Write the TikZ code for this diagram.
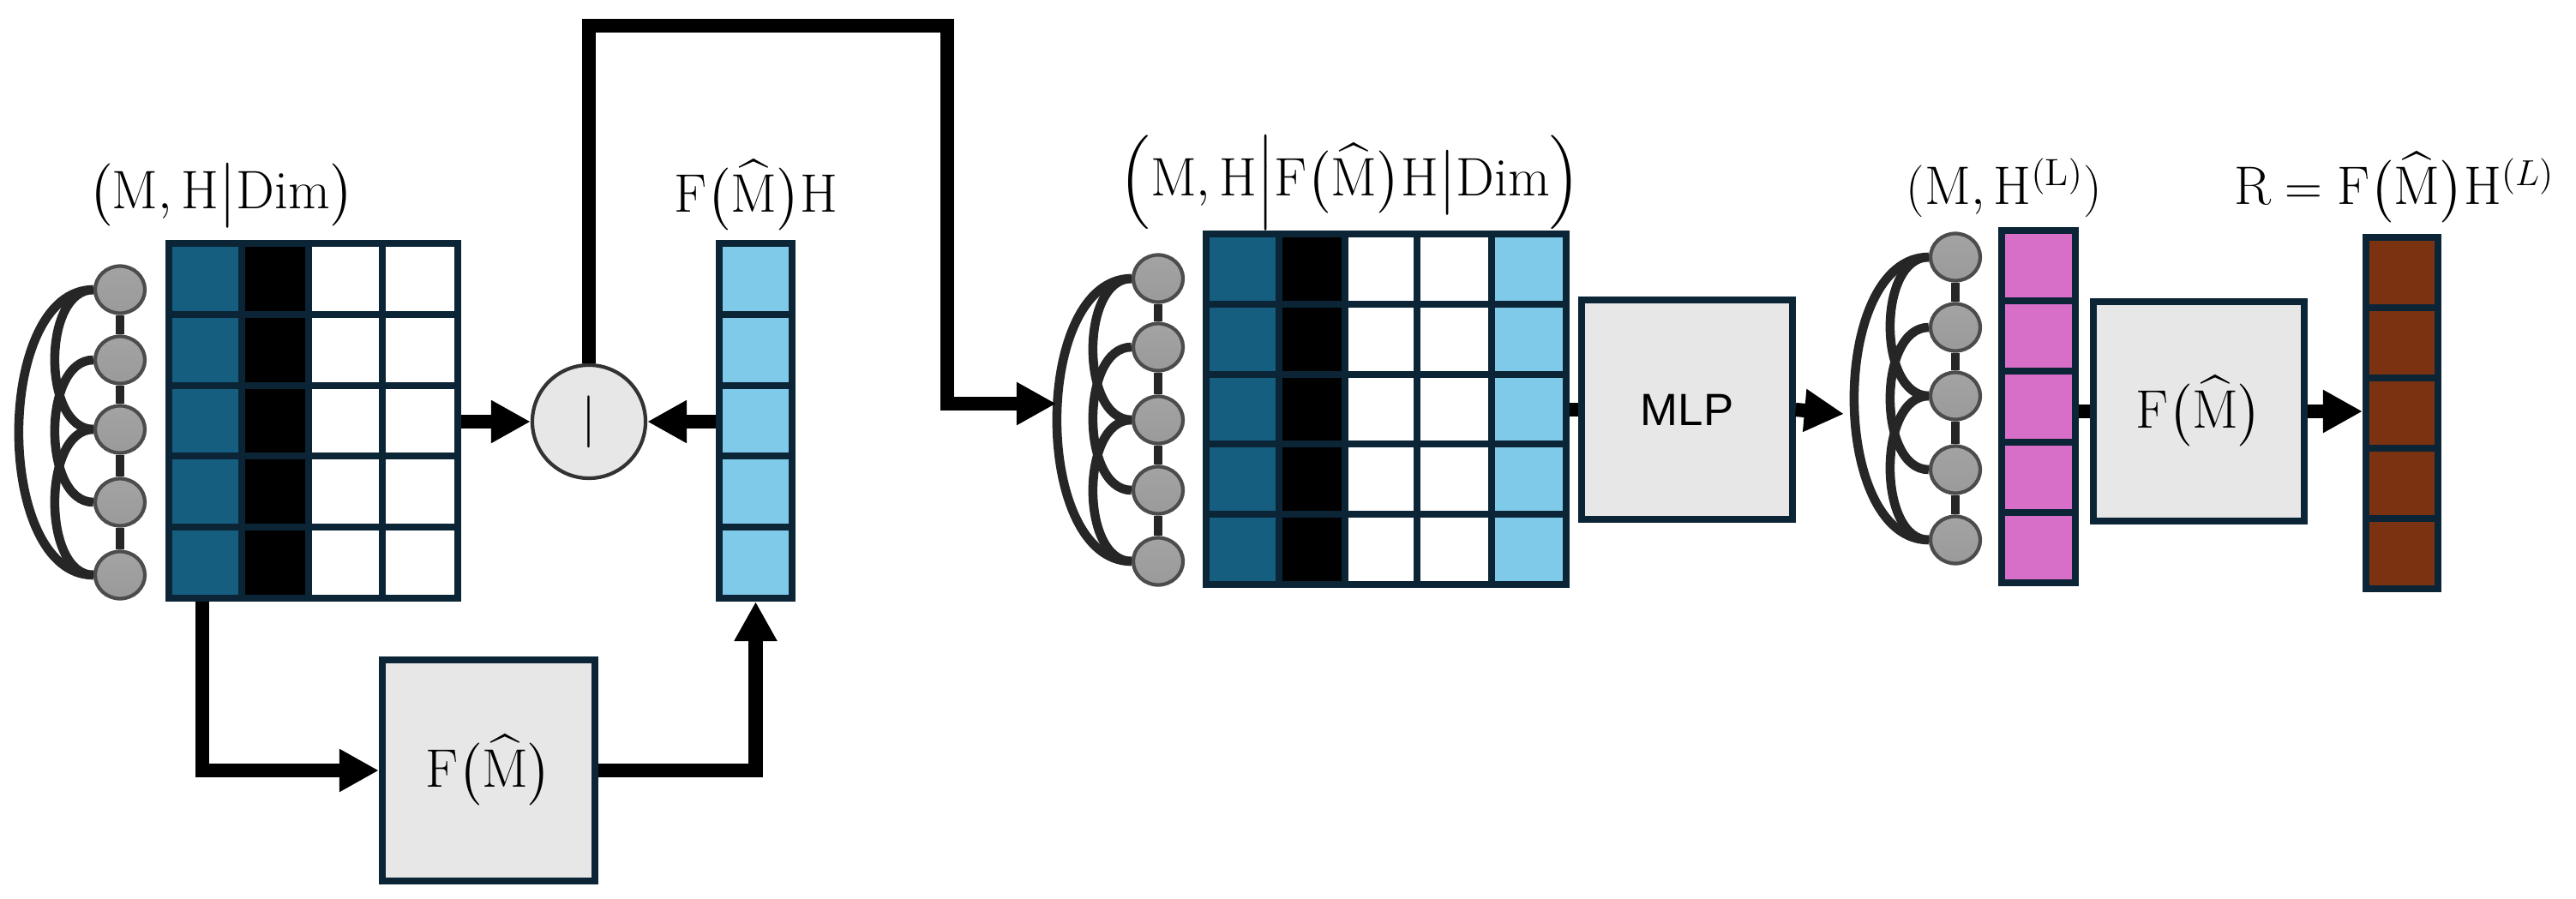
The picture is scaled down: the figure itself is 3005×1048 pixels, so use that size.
\documentclass[tikz,border=0pt]{standalone}
\usepackage{amsmath}
\usepackage{fontspec}
\newfontfamily\sansf{Liberation Sans}
\usetikzlibrary{arrows.meta,calc}
\definecolor{dblue}{HTML}{155E80}
\definecolor{lblue}{HTML}{7FC9E9}
\definecolor{pinkc}{HTML}{D76EC7}
\definecolor{brownc}{HTML}{7B3211}
\definecolor{bord}{HTML}{0B2537}
\definecolor{boxg}{HTML}{E7E7E7}
\definecolor{gcirc}{HTML}{8C8C8C}
\newcommand\mygraph[7]{%
  \foreach \i/\yy in {1/#3,2/#4,3/#5,4/#6,5/#7} \node[gn] (#1\i) at (#2,\yy) {};
  \draw[gl,line width=2.6pt] (#11)--(#12) (#12)--(#13) (#13)--(#14) (#14)--(#15);
  \draw[gl] (#11.west) .. controls +(-116,0) and +(-116,0) .. (#15.west);
  \draw[gl] (#11.west) .. controls +(-60,0) and +(-60,0) .. (#13.west);
  \draw[gl] (#12.west) .. controls +(-60,0) and +(-60,0) .. (#14.west);
  \draw[gl] (#13.west) .. controls +(-60,0) and +(-60,0) .. (#15.west);
}
\newcommand\mycol[7]{% prefix, x1, x2, ytop, ybot, fill, colindex
  \foreach \r in {1,...,5}{
    \pgfmathsetmacro\ya{#4+(\r-1)*(#5-#4)/5}
    \pgfmathsetmacro\yb{#4+\r*(#5-#4)/5}
    \node[cell,fill=#6,minimum width={(#3-#2)*0.01cm},minimum height={(#5-#4)*0.002cm}]
      (#1-#7-\r) at ({(#2+#3)/2},{(\ya+\yb)/2}) {};
  }
}
\tikzset{
  gn/.style={ellipse,draw=black!70,line width=1.2pt,minimum width=0.58cm,minimum height=0.55cm,inner sep=0pt,
    top color=gcirc!80,bottom color=gcirc!110!black},
  gl/.style={draw=black!85,line width=3pt},
  cell/.style={draw=bord,line width=2.3pt,inner sep=0pt},
  box/.style={draw=bord,fill=boxg,line width=2.3pt,inner sep=0pt},
  conn/.style={line width=4.6pt,draw=black},
  arr/.style={conn,-{Triangle[length=0.46cm,width=0.47cm]}},
  lab/.style={font=\fontsize{18}{22}\selectfont,inner sep=0pt},
}
\usetikzlibrary{shapes.geometric}
\begin{document}
\begin{tikzpicture}[x=0.01cm,y=-0.01cm]
\useasboundingbox (0,0) rectangle (3005,1048);
% left group
\mygraph{lg}{140}{338}{420}{501}{586}{671}
\mycol{L}{197}{282}{284}{698}{dblue}{1}
\mycol{L}{282}{360}{284}{698}{black}{2}
\mycol{L}{360}{446}{284}{698}{white}{3}
\mycol{L}{446}{534}{284}{698}{white}{4}
\node[lab] (lab1) at (258,228) {$\bigl(\mathrm{M},\mathrm{H}\big|\mathrm{Dim}\bigr)$};
\mycol{B}{839}{924}{284}{698}{lblue}{1}
\node[lab] (lab2) at (882,228) {$\mathrm{F}\bigl(\widehat{\mathrm{M}}\bigr)\mathrm{H}$};
\node[circle,draw=black!80,fill=boxg,line width=1.2pt,minimum size=1.32cm,inner sep=0pt,lab] (bar) at (687,492) {$|$};
\node[box,minimum width=2.48cm,minimum height=2.58cm,lab] (f1) at (570,899) {$\mathrm{F}\bigl(\widehat{\mathrm{M}}\bigr)$};
% middle group
\mygraph{mg}{1351}{325}{405}{490}{572}{655}
\mycol{M}{1407}{1492}{273}{682}{dblue}{1}
\mycol{M}{1492}{1569}{273}{682}{black}{2}
\mycol{M}{1569}{1653}{273}{682}{white}{3}
\mycol{M}{1653}{1740}{273}{682}{white}{4}
\mycol{M}{1740}{1827}{273}{682}{lblue}{5}
\node[lab] (lab3) at (1575,213) {$\Bigl(\mathrm{M},\mathrm{H}\Big|\mathrm{F}\bigl(\widehat{\mathrm{M}}\bigr)\mathrm{H}\big|\mathrm{Dim}\Bigr)$};
\node[box,minimum width=2.45cm,minimum height=2.56cm,font=\sansf\fontsize{15}{18}\selectfont] (mlp) at (1968,478) {MLP};
% right group
\mygraph{rg}{2281}{300}{382}{462}{548}{630}
\mycol{P}{2335}{2421}{269}{680}{pinkc}{1}
\node[box,minimum width=2.45cm,minimum height=2.55cm,lab] (f2) at (2565,480) {$\mathrm{F}\bigl(\widehat{\mathrm{M}}\bigr)$};
\mycol{R}{2760}{2844}{277}{687}{brownc}{1}
\node[lab] (lab4) at (2338,219) {$(\mathrm{M},\mathrm{H}^{(\mathrm{L})})$};
\node[lab] (lab5) at (2793,219) {$\mathrm{R}=\mathrm{F}\bigl(\widehat{\mathrm{M}}\bigr)\mathrm{H}^{(L)}$};
% connectors
\coordinate (t1) at (1232,471);
\coordinate (t2) at (2151,483);
\draw[arr] (L-4-3.east |- bar) -- (bar.west);
\draw[arr] (B-1-3.west |- bar) -- (bar.east);
\draw[arr] (bar.north) |- (1105,30) |- (t1);
\draw[conn] (M-5-3.east |- mlp) -- (mlp.west);
\draw[arr] (mlp.east) -- (t2);
\draw[conn] (P-1-3.east |- f2) -- (f2.west);
\draw[arr] (f2.east) -- (R-1-3.west |- f2);
\draw[arr] (L-1-5.south -| 236,0) |- (f1.west);
\draw[arr] (f1.east) -| (B-1-5.south);
\end{tikzpicture}
\end{document}
